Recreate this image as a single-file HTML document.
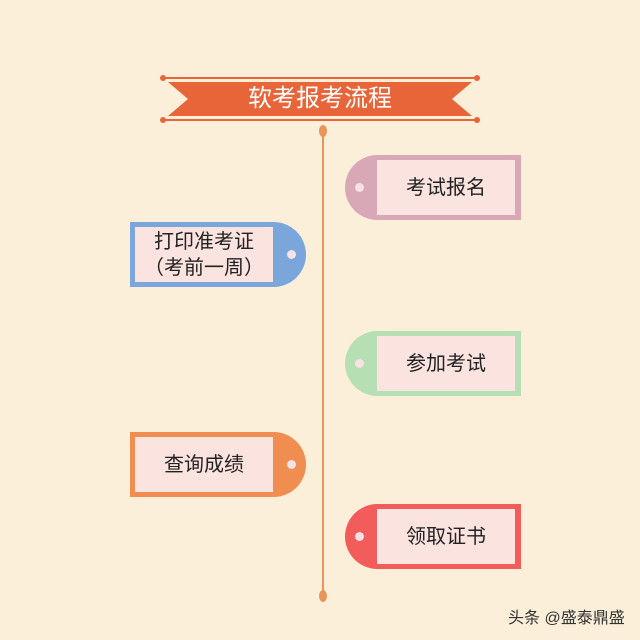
<!DOCTYPE html>
<html><head><meta charset="utf-8"><style>
body{margin:0;width:640px;height:640px;background:#fbefd9;position:relative;overflow:hidden;font-family:"Liberation Sans","Noto Sans CJK SC",sans-serif}
.a{position:absolute}
.tag{position:absolute;width:176px;height:65px}
.tag .in{position:absolute;top:5px;height:55px;width:138px;background:#fbe3df;display:flex;align-items:center;justify-content:center;text-align:center;font-size:20px;color:#222;line-height:26px}
.tag .h{position:absolute;top:28px;width:9px;height:9px;border-radius:50%;background:#f6e2e4}
.r{border-radius:33px 0 0 33px}
.r .in{left:32px}
.r .h{left:10px}
.l{border-radius:0 33px 33px 0}
.l .in{left:5px}
.l .h{right:10px}
</style></head><body>
<div class="a" style="left:162px;top:77px;width:315px;height:2px;background:#e8653a"></div>
<div class="a" style="left:162px;top:119px;width:315px;height:2px;background:#e8653a"></div>
<div class="a" style="left:160px;top:75px;width:6px;height:6px;border-radius:50%;background:#e8653a"></div>
<div class="a" style="left:474px;top:75px;width:6px;height:6px;border-radius:50%;background:#e8653a"></div>
<div class="a" style="left:160px;top:117px;width:6px;height:6px;border-radius:50%;background:#e8653a"></div>
<div class="a" style="left:474px;top:117px;width:6px;height:6px;border-radius:50%;background:#e8653a"></div>
<svg class="a" style="left:0;top:0" width="640" height="640"><polygon points="168,82 472,82 452,99 472,116 168,116 188,99" fill="#e8653a"/></svg>
<div class="a" style="left:168px;top:82px;width:304px;height:34px;line-height:34px;text-align:center;color:#fff;font-size:24px">软考报考流程</div>
<div class="a" style="left:322px;top:130px;width:2px;height:466px;background:#e9955a"></div>
<div class="a" style="left:319px;top:125px;width:8px;height:12px;border-radius:50%;background:#e9955a"></div>
<div class="a" style="left:319px;top:590px;width:8px;height:12px;border-radius:50%;background:#e9955a"></div>
<div class="tag r" style="left:345px;top:155px;background:#d9a8b6"><div class="h"></div><div class="in">考试报名</div></div>
<div class="tag r" style="left:345px;top:331px;background:#b6dfb4"><div class="h"></div><div class="in">参加考试</div></div>
<div class="tag r" style="left:345px;top:504px;background:#f25d5c"><div class="h"></div><div class="in">领取证书</div></div>
<div class="tag l" style="left:130px;top:222px;background:#7aa6dc"><div class="h"></div><div class="in">打印准考证<br>（考前一周）</div></div>
<div class="tag l" style="left:130px;top:432px;background:#ef8e50"><div class="h"></div><div class="in">查询成绩</div></div>
<div class="a" style="left:508px;top:604px;font-size:16px;color:#333">头条 @盛泰鼎盛</div>
</body></html>
